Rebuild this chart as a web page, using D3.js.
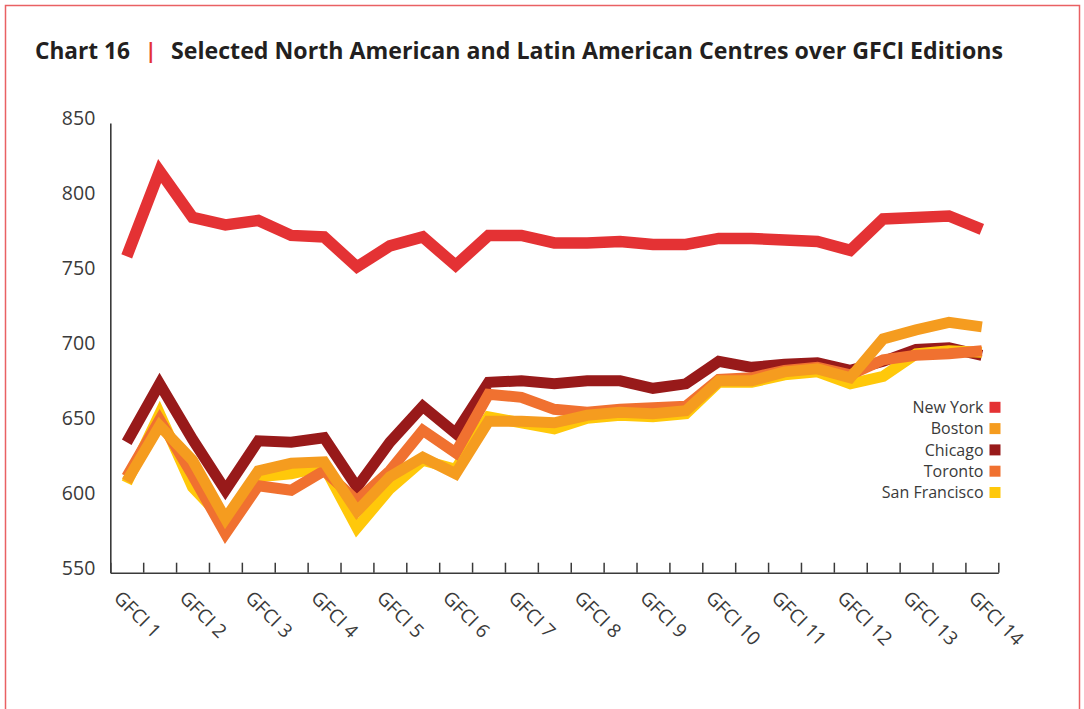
<!DOCTYPE html>
<html><head><meta charset="utf-8">
<script src="https://cdn.jsdelivr.net/npm/d3@7/dist/d3.min.js"></script>
<style>
html,body{margin:0;padding:0;background:#fff;}
svg{display:block;font-family:"Open Sans",sans-serif;}
</style></head>
<body>
<svg id="chart" width="1084" height="709"></svg>
<script>
// ---- data ----
const categories = ["GFCI 1","","GFCI 2","","GFCI 3","","GFCI 4","","GFCI 5","","GFCI 6","","GFCI 7","","GFCI 8","","GFCI 9","","GFCI 10","","GFCI 11","","GFCI 12","","GFCI 13","","GFCI 14"];
const newYork      = [761,818,787,782,785,775,774,754,768,774,755,775,775,770,770,771,769,769,773,773,772,771,765,786,787,788,779];
const chicago      = [637,676,639,605,638,637,640,607,637,661,643,677,678,676,678,678,673,676,691,687,689,690,685,691,699,700,695];
const boston       = [611,648,625,586,618,623,624,591,614,627,616,651,651,650,655,657,656,658,678,678,684,686,680,706,712,717,714];
const toronto      = [614,652,615,576,608,605,618,598,618,645,630,669,667,659,657,659,660,661,679,680,685,687,682,692,695,696,698];
const sanFrancisco = [610,656,607,584,614,616,621,580,606,625,619,654,650,646,653,655,654,656,677,677,682,684,676,681,696,698,697];
const yTicks = [550,600,650,700,750,800,850];
const seriesNames = ["New York","Boston","Chicago","Toronto","San Francisco"];
const titleLabel = "Chart 16";
const titleText = "Selected North American and Latin American Centres over GFCI Editions";

(function(){
const colors = {"New York":"#E43234","Boston":"#F59C1F","Chicago":"#981A1A","Toronto":"#F07130","San Francisco":"#FFC80A"};
const seriesData = {"New York":newYork,"Boston":boston,"Chicago":chicago,"Toronto":toronto,"San Francisco":sanFrancisco};
const drawOrder = ["Chicago","San Francisco","Toronto","Boston","New York"];

const svg = d3.select("#chart");

// frame
svg.append("path")
  .attr("d","M5.5,715 L5.5,5.5 L1079.5,5.5 L1079.5,715")
  .attr("fill","none").attr("stroke","#E96163").attr("stroke-width",1.5);

// title
const tg = svg.append("g");
tg.append("text").attr("x",35).attr("y",58.5).attr("font-size",23).attr("font-weight",700)
  .attr("fill","#231F20").attr("textLength",95).attr("lengthAdjust","spacingAndGlyphs").text(titleLabel);
tg.append("text").attr("x",145).attr("y",57.5).attr("font-size",21).attr("font-weight",700)
  .attr("fill","#E43234").text("|");
tg.append("text").attr("x",171).attr("y",58.5).attr("font-size",23).attr("font-weight",700)
  .attr("fill","#231F20").attr("textLength",832).attr("lengthAdjust","spacingAndGlyphs").text(titleText);

// scales
const pLeft = 110.3, pRight = 998.3, pTop = 123, pBottom = 572.7;
const x = d3.scaleBand().domain(d3.range(categories.length)).range([pLeft,pRight]).padding(0);
const xEdge = d3.scaleLinear().domain([0,categories.length]).range([pLeft,pRight]);
const y = d3.scaleLinear().domain([550,850]).range([pBottom,pTop]);

// lines
const line = d3.line().x((d,i)=>x(i)+x.bandwidth()/2).y(d=>y(d)).curve(d3.curveLinear);
drawOrder.forEach(name=>{
  svg.append("path").datum(seriesData[name])
    .attr("d",line).attr("fill","none")
    .attr("stroke",colors[name]).attr("stroke-width",name==="New York"?11.5:11)
    .attr("stroke-linejoin","miter").attr("stroke-miterlimit",4);
});

// x axis
const xAxis = svg.append("g").attr("transform",`translate(0,${pBottom})`)
  .call(d3.axisBottom(xEdge).tickValues(d3.range(categories.length+1)).tickSizeInner(-10).tickSizeOuter(0).tickFormat(""));
xAxis.select(".domain").attr("stroke","#3a3a3a").attr("stroke-width",1.6);
xAxis.selectAll(".tick line").attr("stroke","#3a3a3a").attr("stroke-width",1.5);

// x labels
svg.append("g").selectAll("text").data(categories.map((c,i)=>({c,i})).filter(d=>d.c!==""))
  .join("text")
  .attr("transform",d=>`translate(${x(d.i)+x.bandwidth()/2-14},599) rotate(45)`)
  .attr("font-size",19).attr("fill","#3a3a3a").attr("text-anchor","start")
  .text(d=>d.c);

// y axis
const yAxis = svg.append("g").attr("transform",`translate(${pLeft},0)`)
  .call(d3.axisLeft(y).tickValues(yTicks).tickSize(0).tickPadding(15).tickFormat(d3.format("d")));
yAxis.select(".domain").attr("stroke","#3a3a3a").attr("stroke-width",1.6);
yAxis.selectAll(".tick text").attr("font-size",19.5).attr("fill","#3a3a3a")
  .attr("font-family","'Open Sans',sans-serif").attr("y",-4.5);

// legend
const lg = svg.append("g");
seriesNames.forEach((name,i)=>{
  const cy = 407.3 + i*21.3;
  lg.append("text").attr("x",983.5).attr("y",cy).attr("dy","0.35em")
    .attr("text-anchor","end").attr("font-size",16).attr("fill","#3a3a3a").text(name);
  lg.append("rect").attr("x",989.5).attr("y",cy-5.5).attr("width",11).attr("height",11)
    .attr("fill",colors[name]);
});
})();
</script>
</body></html>
